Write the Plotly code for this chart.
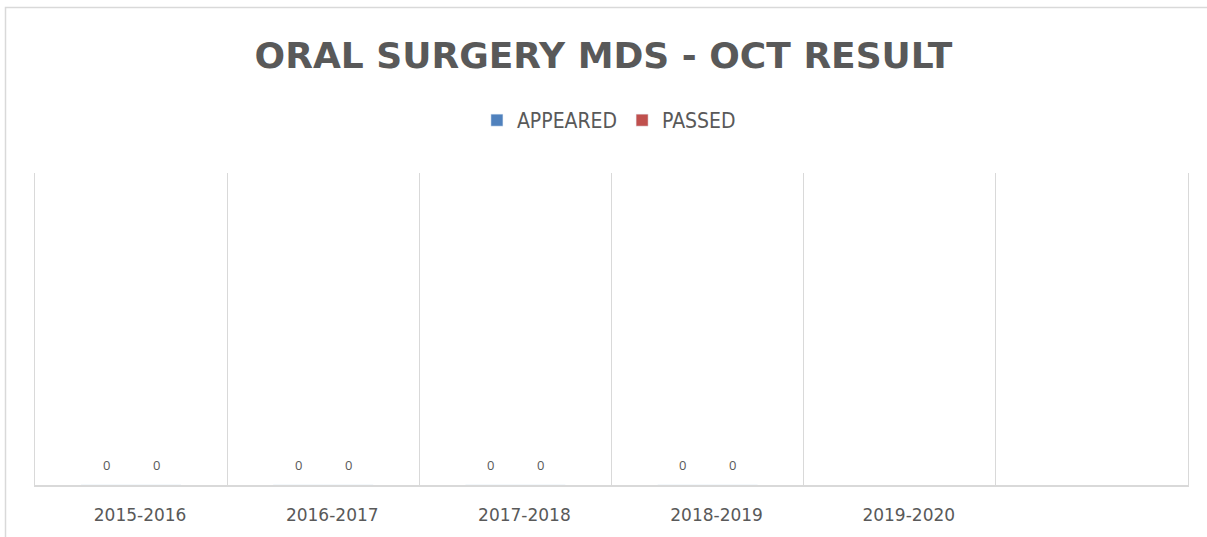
import plotly.graph_objects as go

categories = ["2015-2016", "2016-2017", "2017-2018", "2018-2019", "2019-2020", " "]
appeared = [0, 0, 0, 0, None, None]
passed = [0, 0, 0, 0, None, None]
series_names = ["APPEARED", "PASSED"]
title_text = "ORAL SURGERY MDS - OCT RESULT"

BLUE = "#4F81BD"
RED = "#C0504D"
GRAY = "#595959"
GRID = "#D9D9D9"

fig = go.Figure()
fig.add_trace(go.Bar(name=series_names[0], x=categories, y=appeared, marker_color=BLUE))
fig.add_trace(go.Bar(name=series_names[1], x=categories, y=passed, marker_color=RED))

annotations = []
for vals, shift in ((appeared, -25), (passed, 25)):
    for c, v in zip(categories, vals):
        if v is None:
            continue
        annotations.append(dict(x=c, y=v, xref="x", yref="y", text=str(v), showarrow=False,
                                xshift=shift, yshift=20, font=dict(family="Open Sans", size=13, color=GRAY)))

fig.update_layout(
    width=1207, height=537,
    margin=dict(l=35, r=19, t=173, b=50),
    paper_bgcolor="white", plot_bgcolor="white",
    barmode="group", bargap=0.48, bargroupgap=0,
    title=dict(text=f"<b>{title_text}</b>", x=0.5, xref="container", xanchor="center",
               y=1 - 55 / 537, yref="container", yanchor="middle",
               font=dict(family="DejaVu Sans", size=36, color=GRAY)),
    legend=dict(orientation="h", x=0.5045, xref="container", xanchor="center",
                y=1 - 120.5 / 537, yref="container", yanchor="middle",
                font=dict(family="DejaVu Sans Condensed", size=21, color=GRAY),
                itemclick=False),
    showlegend=True,
    annotations=annotations,
    xaxis=dict(type="category", categoryorder="array", categoryarray=categories,
               range=[-0.5, len(categories) - 0.5], tickson="boundaries",
               showgrid=True, gridcolor=GRID, gridwidth=1.3,
               showline=True, linecolor=GRID, linewidth=1.5,
               ticks="", ticklabelstandoff=14, ticklabelshift=9,
               tickfont=dict(family="DejaVu Sans", size=17, color=GRAY)),
    yaxis=dict(range=[0, 1], showgrid=False, zeroline=False, showticklabels=False,
               showline=True, mirror=True, linecolor=GRID, linewidth=1.3, fixedrange=True),
    shapes=[dict(type="rect", xref="paper", yref="paper",
                 x0=(5.5 - 35) / 1153, x1=(1215 - 35) / 1153,
                 y0=(487 - 560) / 314, y1=(487 - 6.5) / 314,
                 line=dict(color=GRID, width=1.5), fillcolor="rgba(0,0,0,0)", layer="below")],
)

fig.write_html("out.html", config={"displayModeBar": False},
               post_script="document.body.style.margin='0';")
